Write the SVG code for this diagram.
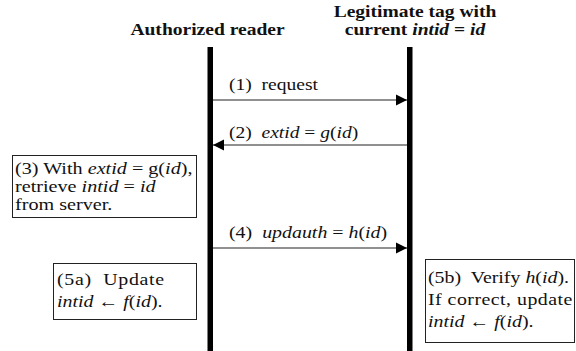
<svg xmlns="http://www.w3.org/2000/svg" width="576" height="351" viewBox="0 0 576 351">
<style>
text{font-size:17px;fill:#111}
.s{font-size:16px}
.t{font-weight:bold}
.i{font-style:italic}
.bar{fill:#000}
.box{fill:#fff;stroke:#222;stroke-width:1}
.msg{stroke:#222;stroke-width:1.2;fill:none}
</style>
<defs>
<marker id="ah" markerUnits="userSpaceOnUse" markerWidth="12" markerHeight="12" refX="11" refY="6" orient="auto">
<path d="M0,0.5 L11,6 L0,11.5 Z" fill="#000"/>
</marker>
</defs>
<rect width="576" height="351" fill="#fff"/>
<g font-family="Liberation Serif, DejaVu Serif, serif">
<g id="reader">
<text class="t" text-anchor="middle" transform="translate(207.5,35) scale(1.15,1)">Authorized reader</text>
<rect class="bar" x="207.5" y="47" width="5.5" height="304"/>
</g>
<g id="tag">
<text class="t" text-anchor="middle" transform="translate(415,17) scale(1.15,1)">Legitimate tag with</text>
<text class="t" text-anchor="middle" transform="translate(415,35) scale(1.15,1)">current <tspan class="i">intid</tspan> = <tspan class="i">id</tspan></text>
<rect class="bar" x="407" y="47" width="5.5" height="304"/>
</g>
<g id="connectors">
<line class="msg" x1="213" y1="100" x2="407" y2="100" marker-end="url(#ah)"/>
<text transform="translate(229,90) scale(1.15,1)">(1)&#160; request</text>
<line class="msg" x1="407" y1="145" x2="213" y2="145" marker-end="url(#ah)"/>
<text transform="translate(229,138) scale(1.15,1)">(2)&#160; <tspan class="i">extid</tspan> = <tspan class="i">g</tspan>(<tspan class="i">id</tspan>)</text>
<line class="msg" x1="213" y1="248" x2="407" y2="248" marker-end="url(#ah)"/>
<text transform="translate(229,238) scale(1.17,1)">(4)&#160; <tspan class="i">updauth</tspan> = <tspan class="i">h</tspan>(<tspan class="i">id</tspan>)</text>
</g>
<g id="step3">
<rect class="box" x="12.5" y="155.5" width="184" height="62"/>
<text class="s" transform="translate(15,174) scale(1.26,1)">(3) With <tspan class="i">extid</tspan> = g(<tspan class="i">id</tspan>),</text>
<text class="s" transform="translate(15,192) scale(1.26,1)">retrieve <tspan class="i">intid</tspan> = <tspan class="i">id</tspan></text>
<text class="s" transform="translate(15,210) scale(1.26,1)">from server.</text>
</g>
<g id="step5a">
<rect class="box" x="53.5" y="263.5" width="143" height="56"/>
<text transform="translate(57,285) scale(1.17,1)" letter-spacing="0.6">(5a)&#160; Update</text>
<text transform="translate(57,307) scale(1.17,1)"><tspan class="i">intid</tspan> ← <tspan class="i">f</tspan>(<tspan class="i">id</tspan>).</text>
</g>
<g id="step5b">
<rect class="box" x="425.5" y="259.5" width="149" height="83"/>
<text transform="translate(428,283) scale(1.17,1)">(5b)&#160; Verify <tspan class="i">h</tspan>(<tspan class="i">id</tspan>).</text>
<text transform="translate(428,305) scale(1.17,1)" letter-spacing="0.4">If correct, update</text>
<text transform="translate(428,327) scale(1.17,1)"><tspan class="i">intid</tspan> ← <tspan class="i">f</tspan>(<tspan class="i">id</tspan>).</text>
</g>
</g>
</svg>
